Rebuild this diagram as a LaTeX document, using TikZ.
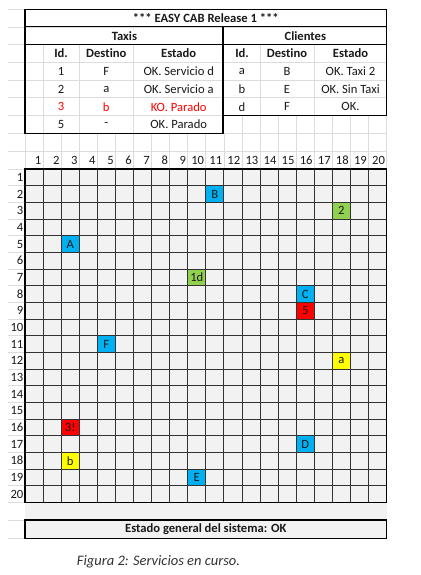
\documentclass[tikz,border=0pt]{standalone}
\usepackage{fontspec}
\setmainfont{Carlito}[Ligatures={NoCommon}]
\usepackage{tikz}
\usetikzlibrary{positioning}
\definecolor{cellgray}{HTML}{F2F2F2}
\definecolor{faintline}{HTML}{DCDCDC}
\definecolor{xlblue}{HTML}{00B0F0}
\definecolor{xlgreen}{HTML}{92D050}
\definecolor{xlred}{HTML}{FF0000}
\definecolor{xlyellow}{HTML}{FFFF00}
\definecolor{captiongray}{HTML}{333333}
\tikzset{
  txt/.style={inner sep=0pt, text=black!90, font=\fontsize{12.6}{14}\selectfont},
  hdr/.style={inner sep=0pt, text=black!90, font=\fontsize{12.6}{14}\selectfont\bfseries},
  koline/.style={txt, text=xlred},
  num/.style={txt, anchor=east},
  cellmark/.style={inner sep=0pt, minimum width=18.08pt, minimum height=16.67pt, text=black!90, font=\fontsize{12.6}{14}\selectfont},
  faint/.style={draw=faintline, line width=0.7pt},
  gridline/.style={draw=black!80, line width=0.8pt},
  border/.style={draw=black, line width=1.5pt}
}

\begin{document}
\begin{tikzpicture}[x=1pt,y=-1pt]
  \useasboundingbox[fill=white] (0,0) rectangle (420,575);
  % faint spreadsheet lines
  \foreach \k in {0,...,7} \draw[faint] (8,{9.3+17.71*\k}) -- (386.7,{9.3+17.71*\k});
  \draw[faint] (8,151.7) -- (386.7,151.7);
  \foreach \r in {0,...,20} \draw[faint] (8,{169+16.67*\r}) -- (25,{169+16.67*\r});
  \foreach \yy in {520,538.3} \draw[faint] (8,\yy) -- (25,\yy);
  \foreach \xx in {43.1,79.2,133.5} \draw[faint] (\xx,44.7) -- (\xx,133.3);
  \foreach \xx in {260,314.2} \draw[faint] (\xx,44.7) -- (\xx,115.6);
  \foreach \c in {12,...,20} \draw[faint] ({25+18.08*\c},115.6) -- ({25+18.08*\c},133.3);
  \foreach \c in {0,...,20} \draw[faint] ({25+18.08*\c},133.3) -- ({25+18.08*\c},169);

  % results table
  \draw[border] (25,9.3) rectangle (386.7,26.7);
  \draw[border] (25,26.7) rectangle (386.7,44.7);
  \draw[border] (25,44.7) -- (25,133.3) -- (223,133.3) -- (223,26.7);
  \draw[border] (386.7,44.7) -- (386.7,115.6) -- (223,115.6);
  \node[hdr] (title) at (205.8,18.2) {*** EASY CAB Release 1 ***};
  \node[hdr] (taxis) at (124.4,35.9) {Taxis};
  \node[hdr] (clientes) at (305.3,35.9) {Clientes};
  \node[hdr] (txid) at (61.1,53.6) {Id.};
  \node[hdr] (txdest) at (106.3,53.6) {Destino};
  \node[hdr] (txest) at (178.7,53.6) {Estado};
  \node[hdr] (clid) at (242,53.6) {Id.};
  \node[hdr] (cldest) at (287,53.6) {Destino};
  \node[hdr] (clest) at (350.5,53.6) {Estado};
  \node[txt] (tx1id) at (61.1,71.3) {1};
  \node[txt] (tx1dest) at (106.3,71.3) {F};
  \node[txt] (tx1est) at (178.7,71.3) {OK. Servicio d};
  \node[txt] (tx2id) at (61.1,89.0) {2};
  \node[txt] (tx2dest) at (106.3,89.0) {a};
  \node[txt] (tx2est) at (178.7,89.0) {OK. Servicio a};
  \node[koline] (tx3id) at (61.1,106.7) {3};
  \node[koline] (tx3dest) at (106.3,106.7) {b};
  \node[koline] (tx3est) at (178.7,106.7) {KO. Parado};
  \node[txt] (tx5id) at (61.1,124.5) {5};
  \node[txt] (tx5dest) at (106.3,124.5) {-};
  \node[txt] (tx5est) at (178.7,124.5) {OK. Parado};
  \node[txt] (claid) at (242,71.3) {a};
  \node[txt] (cladest) at (287,71.3) {B};
  \node[txt] (claest) at (350.5,71.3) {OK. Taxi 2};
  \node[txt] (clbid) at (242,89.0) {b};
  \node[txt] (clbdest) at (287,89.0) {E};
  \node[txt] (clbest) at (350.5,89.0) {OK. Sin Taxi};
  \node[txt] (cldid) at (242,106.7) {d};
  \node[txt] (cldidest) at (287,106.7) {F};
  \node[txt] (cldiest) at (350.5,106.7) {OK.};

  % map 20x20
  \fill[cellgray] (25,169) rectangle (386.7,520);
  \foreach \c in {1,...,20} \node[num] (col\c) at ({25+18.08*\c-1.5},160.4) {\c};
  \foreach \r in {1,...,20} \node[num] (row\r) at (23.5,{169+16.67*(\r-0.5)}) {\r};
  \foreach \c/\r/\t/\col in {11/2/B/xlblue, 18/3/2/xlgreen, 3/5/A/xlblue, 10/7/1d/xlgreen,
      16/8/C/xlblue, 16/9/5/xlred, 5/11/F/xlblue, 18/12/a/xlyellow, 3/16/3!/xlred,
      16/17/D/xlblue, 3/18/b/xlyellow, 10/19/E/xlblue}
    \node[cellmark, fill=\col] (m\c-\r) at ({25+18.08*(\c-0.5)},{169+16.67*(\r-0.5)}) {\t};
  \foreach \c in {1,...,19} \draw[gridline] ({25+18.08*\c},169) -- ({25+18.08*\c},502.3);
  \foreach \r in {1,...,19} \draw[gridline] (25,{169+16.67*\r}) -- (386.7,{169+16.67*\r});
  \draw[border] (25,169) rectangle (386.7,502.3);

  % status and caption
  \node[hdr, border, fill=cellgray, minimum width=361.7pt, minimum height=18.3pt] (estado) at (205.8,529.2) {Estado general del sistema: OK};
  \node[inner sep=0pt, text=captiongray, font=\fontsize{14.5}{16}\selectfont\itshape] (caption) at (158.5,562) {Figura 2: Servicios en curso.};
\end{tikzpicture}
\end{document}
